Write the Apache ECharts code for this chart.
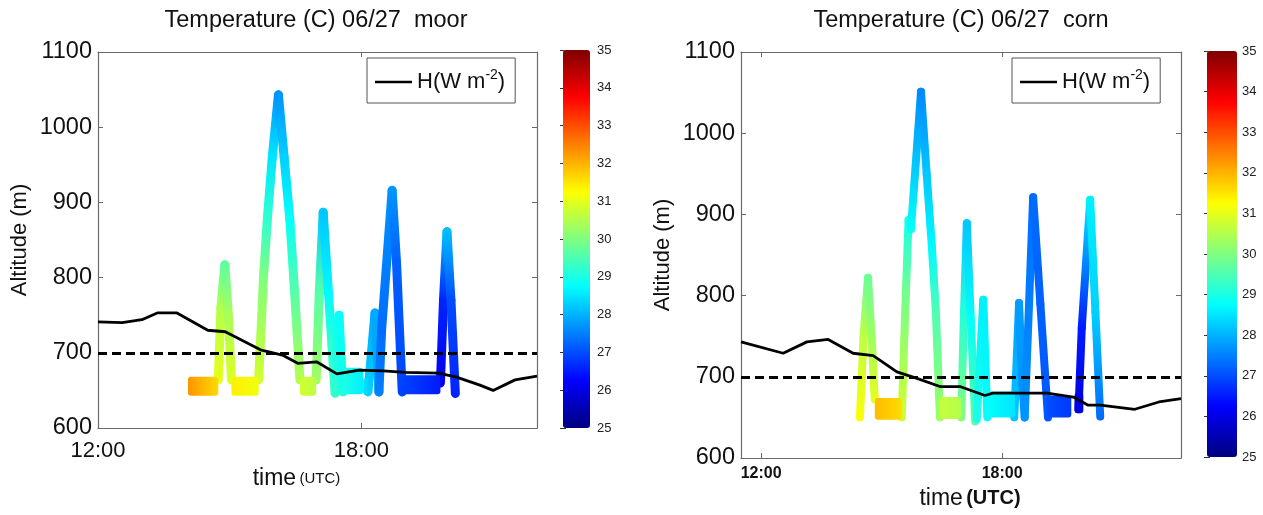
<!DOCTYPE html>
<html>
<head>
<meta charset="utf-8">
<title>Temperature (C) 06/27</title>
<script src="https://cdn.jsdelivr.net/npm/echarts@6/dist/echarts.min.js"></script>
<style>
  html, body { margin: 0; padding: 0; background: #fff; }
  #chart { width: 1263px; height: 515px; }
</style>
</head>
<body>
<div id="chart"></div>
<script>
// ---- temperature colour scale (jet), degrees C ----
const tempMin = 25;
const tempMax = 35;
const jetColors = ['#000080', '#0000ff', '#0080ff', '#00ffff', '#80ff80',
                   '#ffff00', '#ff8000', '#ff0000', '#800000'];

// ---- time axis ticks (decimal hours UTC) ----
const hourTicks = [12, 18];
const refAltitude = 700;

// ---- moor: sensible heat flux curve, drawn in altitude units ----
const moorHTime = [12.0, 12.55, 13.0, 13.35, 13.8, 14.5, 14.9, 15.3, 15.7, 16.2, 16.55,
                   16.98, 17.44, 17.95, 18.5, 19.0, 19.75, 20.15, 20.7, 21.0, 21.5, 22.0];
const moorHAlt  = [741, 740, 744, 753, 753, 730, 728, 716, 704, 697, 686,
                   688, 672, 677, 676, 674, 673, 668, 657, 650, 664, 669];

// ---- moor: flight profiles, each vertex [time, altitude, temperature] ----
const moorProfiles = [
  [[14.74, 664, 31.0], [14.80, 760, 30.5], [14.89, 817, 29.7], [14.97, 750, 30.4], [15.04, 664, 30.9]],
  [[15.66, 664, 30.8], [15.77, 800, 30.0], [15.86, 880, 29.2], [15.97, 960, 28.5], [16.11, 1043, 27.7],
   [16.24, 960, 28.3], [16.37, 877, 28.8], [16.48, 780, 29.6], [16.60, 664, 30.5]],
  [[16.97, 664, 30.3], [17.04, 780, 29.6], [17.13, 887, 28.2], [17.25, 780, 28.7], [17.33, 710, 29.2], [17.40, 646, 29.4]],
  [[17.41, 648, 29.2], [17.49, 750, 28.8], [17.58, 648, 29.0]],
  [[18.15, 648, 28.3], [18.31, 753, 27.9], [18.40, 648, 27.9]],
  [[18.40, 648, 27.5], [18.46, 730, 27.3], [18.70, 916, 27.7], [18.80, 820, 27.2], [18.93, 648, 26.9]],
  [[19.80, 660, 26.1], [19.87, 770, 26.6], [19.95, 861, 28.1], [20.04, 770, 27.0], [20.14, 646, 26.6]]
];
// ---- moor: level legs [startTime, endTime, lowAlt, highAlt, startTemp, endTemp] ----
const moorLevels = [
  [14.05, 14.74, 643, 668, 32.3, 31.6],
  [15.04, 15.66, 643, 668, 31.4, 31.1],
  [16.60, 16.97, 643, 668, 30.8, 30.6],
  [17.60, 18.04, 645, 680, 29.0, 28.6],
  [18.04, 18.16, 645, 666, 28.5, 28.3],
  [18.90, 19.80, 645, 670, 26.9, 26.5]
];

// ---- corn: sensible heat flux curve, drawn in altitude units ----
const cornHTime = [11.5, 12.55, 13.14, 13.67, 14.29, 14.79, 15.38, 15.88, 16.45, 16.95,
                   17.57, 17.77, 19.12, 19.77, 20.14, 20.44, 21.3, 21.9, 22.45];
const cornHAlt  = [743, 729, 743, 746, 729, 726, 706, 698, 688, 688,
                   677, 680, 680, 675, 665, 665, 660, 669, 673];

// ---- corn: flight profiles ----
const cornProfiles = [
  [[14.46, 650, 31.2], [14.55, 750, 30.6], [14.66, 822, 29.8], [14.75, 750, 30.3], [14.83, 672, 31.0]],
  [[15.50, 650, 30.8], [15.60, 800, 29.9], [15.67, 893, 29.0], [15.73, 882, 28.8], [15.98, 1051, 27.6],
   [16.12, 950, 28.2], [16.25, 860, 28.7], [16.35, 780, 29.5], [16.45, 650, 30.3]],
  [[16.98, 650, 30.0], [17.05, 780, 29.1], [17.12, 889, 28.2], [17.22, 770, 28.8], [17.33, 645, 29.6]],
  [[17.37, 648, 29.0], [17.53, 795, 28.6], [17.63, 650, 28.8]],
  [[18.30, 650, 28.2], [18.42, 791, 27.8], [18.50, 690, 27.7], [18.56, 650, 27.8]],
  [[18.56, 650, 27.7], [18.77, 921, 27.3], [18.95, 790, 27.2], [19.14, 650, 27.1]],
  [[19.90, 660, 26.0], [19.98, 760, 26.5], [20.19, 918, 28.6], [20.32, 780, 28.3], [20.44, 651, 27.3]]
];
// ---- corn: level legs ----
const cornLevels = [
  [14.83, 15.50, 647, 674, 31.9, 31.6],
  [16.43, 16.98, 648, 675, 30.7, 30.5],
  [17.63, 18.32, 650, 682, 28.8, 28.5],
  [19.10, 19.72, 650, 677, 27.0, 26.8],
  [19.80, 20.02, 655, 680, 26.0, 26.0]
];

const FONT = "'Liberation Sans', Arial, Helvetica, sans-serif";
const INK = '#111';
const FRAME = '#6a6a6a';

function jet(t) {
  const p = Math.min(1, Math.max(0, (t - tempMin) / (tempMax - tempMin)));
  return echarts.color.lerp(p, jetColors);
}

function zip(xs, ys) { return xs.map((x, i) => [x, ys[i]]); }

function toSegments(profiles) {
  const out = [];
  profiles.forEach(leg => {
    for (let i = 0; i < leg.length - 1; i++) {
      const a = leg[i], b = leg[i + 1];
      out.push([a[0], a[1], a[2], b[0], b[1], b[2]]);
    }
  });
  return out;
}

function segmentRenderer(width) {
  return function (params, api) {
    const p1 = api.coord([api.value(0), api.value(1)]);
    const p2 = api.coord([api.value(3), api.value(4)]);
    return {
      type: 'line',
      shape: { x1: p1[0], y1: p1[1], x2: p2[0], y2: p2[1] },
      style: {
        stroke: new echarts.graphic.LinearGradient(p1[0], p1[1], p2[0], p2[1], [
          { offset: 0, color: jet(api.value(2)) },
          { offset: 1, color: jet(api.value(5)) }
        ], true),
        lineWidth: width,
        lineCap: 'round',
        lineJoin: 'round'
      }
    };
  };
}

function levelRenderer(params, api) {
  const tl = api.coord([api.value(0), api.value(3)]);
  const br = api.coord([api.value(1), api.value(2)]);
  return {
    type: 'rect',
    shape: { x: tl[0], y: tl[1], width: br[0] - tl[0], height: br[1] - tl[1], r: 3 },
    style: {
      fill: new echarts.graphic.LinearGradient(tl[0], 0, br[0], 0, [
        { offset: 0, color: jet(api.value(4)) },
        { offset: 1, color: jet(api.value(5)) }
      ], true)
    }
  };
}

const hourLabel = v => Math.round(v) + ':00';
const plainNumber = v => String(v);

function frameAxis(extra) {
  return Object.assign({
    type: 'value',
    axisLine: { show: true, lineStyle: { color: FRAME, width: 1.2 } },
    axisTick: { show: true, inside: true, length: 5, lineStyle: { color: FRAME } },
    axisLabel: { show: false },
    splitLine: { show: false }
  }, extra);
}

function altitudeAxes(gridIndex) {
  return [
    frameAxis({
      gridIndex, position: 'left', min: 600, max: 1100, interval: 100,
      name: 'Altitude (m)', nameLocation: 'middle', nameGap: 67, nameRotate: 90,
      nameTextStyle: { fontFamily: FONT, fontSize: 22, color: INK },
      axisLabel: { show: true, margin: 6, formatter: plainNumber,
                   fontFamily: FONT, fontSize: 23.5, color: INK }
    }),
    frameAxis({ gridIndex, position: 'right', min: 600, max: 1100, interval: 100 })
  ];
}

function colorbarAxes(gridIndex, margin) {
  const tick = { show: true, inside: true, length: 3, lineStyle: { color: '#333' } };
  return [
    {
      type: 'value', gridIndex, position: 'right', min: tempMin, max: tempMax, interval: 1,
      axisLine: { show: false }, axisTick: tick, splitLine: { show: false },
      axisLabel: { margin, formatter: plainNumber, fontFamily: FONT, fontSize: 13, color: '#222' }
    },
    {
      type: 'value', gridIndex, position: 'left', min: tempMin, max: tempMax, interval: 1,
      axisLine: { show: false }, axisTick: tick, splitLine: { show: false },
      axisLabel: { show: false }
    }
  ];
}

const legendText = () => 'H(W m{sup|-2}{n|)}';
function legendBox(name, left) {
  return {
    data: [name], left, top: 58,
    orient: 'horizontal',
    icon: 'rect', itemWidth: 37, itemHeight: 2.5,
    backgroundColor: '#fff', borderColor: '#555', borderWidth: 1,
    padding: [10, 10, 10, 8],
    formatter: legendText,
    selectedMode: false,
    textStyle: {
      fontFamily: FONT, fontSize: 22, color: INK,
      rich: {
        sup: { fontFamily: FONT, fontSize: 14, color: INK, padding: [0, 0, 14, 0] },
        n: { fontFamily: FONT, fontSize: 22, color: INK }
      }
    }
  };
}

const titleStyle = { fontFamily: FONT, fontSize: 23.5, fontWeight: 'normal', color: INK };

const option = {
  backgroundColor: '#fff',
  animation: false,
  title: [
    { text: 'Temperature (C) 06/27  moor', left: 316, top: 9, textAlign: 'center', padding: 0,
      textStyle: titleStyle },
    { text: 'Temperature (C) 06/27  corn', left: 961, top: 9, textAlign: 'center', padding: 0,
      textStyle: titleStyle }
  ],
  legend: [legendBox('H moor', 367), legendBox('H corn', 1012)],
  grid: [
    { left: 98, top: 52, width: 439, height: 376 },
    { left: 741, top: 52, width: 440, height: 406 },
    { left: 563, top: 50, width: 27, height: 378 },
    { left: 1207, top: 51, width: 30, height: 406 }
  ],
  xAxis: [
    frameAxis({
      gridIndex: 0, position: 'bottom', min: 12, max: 22,
      axisTick: { show: true, inside: true, length: 5, customValues: hourTicks, lineStyle: { color: FRAME } },
      axisLabel: { show: true, customValues: hourTicks, formatter: hourLabel, margin: 12,
                   fontFamily: FONT, fontSize: 22, color: INK },
      name: '{a|time} {b|(UTC)}', nameLocation: 'middle', nameGap: 38,
      nameTextStyle: { padding: [0, 42, 0, 0],
        rich: { a: { fontFamily: FONT, fontSize: 23, color: INK },
                b: { fontFamily: FONT, fontSize: 15, color: INK } } }
    }),
    frameAxis({
      gridIndex: 0, position: 'top', min: 12, max: 22,
      axisTick: { show: true, inside: true, length: 5, customValues: hourTicks, lineStyle: { color: FRAME } }
    }),
    frameAxis({
      gridIndex: 1, position: 'bottom', min: 11.5, max: 22.45,
      axisTick: { show: true, inside: true, length: 5, customValues: hourTicks, lineStyle: { color: FRAME } },
      axisLabel: { show: true, customValues: hourTicks, formatter: hourLabel, margin: 8,
                   fontFamily: FONT, fontSize: 16, fontWeight: 'bold', color: INK },
      name: '{a|time} {b|(UTC)}', nameLocation: 'middle', nameGap: 29,
      nameTextStyle: { padding: [0, 0, 0, 18],
        rich: { a: { fontFamily: FONT, fontSize: 23, color: INK },
                b: { fontFamily: FONT, fontSize: 20, fontWeight: 'bold', color: INK } } }
    }),
    frameAxis({
      gridIndex: 1, position: 'top', min: 11.5, max: 22.45,
      axisTick: { show: true, inside: true, length: 5, customValues: hourTicks, lineStyle: { color: FRAME } }
    }),
    { type: 'value', gridIndex: 2, show: false, min: 0, max: 1 },
    { type: 'value', gridIndex: 3, show: false, min: 0, max: 1 }
  ],
  yAxis: [
    ...altitudeAxes(0),
    ...altitudeAxes(1),
    ...colorbarAxes(2, 7),
    ...colorbarAxes(3, 5)
  ],
  visualMap: [
    { type: 'continuous', min: tempMin, max: tempMax, dimension: 2, seriesIndex: 0,
      left: 563, top: 50, itemWidth: 27, itemHeight: 378, padding: 0,
      calculable: false, hoverLink: false, inRange: { color: jetColors } },
    { type: 'continuous', min: tempMin, max: tempMax, dimension: 2, seriesIndex: 4,
      left: 1207, top: 51, itemWidth: 30, itemHeight: 406, padding: 0,
      calculable: false, hoverLink: false, inRange: { color: jetColors } }
  ],
  series: [
    { type: 'custom', name: 'moor profiles', xAxisIndex: 0, yAxisIndex: 0, clip: true, z: 2,
      renderItem: segmentRenderer(9), encode: { x: [0, 3], y: [1, 4] },
      data: toSegments(moorProfiles) },
    { type: 'custom', name: 'moor levels', xAxisIndex: 0, yAxisIndex: 0, clip: true, z: 2,
      renderItem: levelRenderer, encode: { x: [0, 1], y: [2, 3] },
      data: moorLevels },
    { type: 'line', name: 'H moor', xAxisIndex: 0, yAxisIndex: 0, z: 5,
      symbol: 'none', color: '#000', lineStyle: { color: '#000', width: 2.8 },
      data: zip(moorHTime, moorHAlt),
      markLine: { silent: true, symbol: 'none', label: { show: false },
        lineStyle: { color: '#000', width: 2.8, type: [9, 5] }, data: [{ yAxis: refAltitude }] } },
    { type: 'line', name: 'colour scale moor', xAxisIndex: 4, yAxisIndex: 4, data: [], silent: true },
    { type: 'custom', name: 'corn profiles', xAxisIndex: 2, yAxisIndex: 2, clip: true, z: 2,
      renderItem: segmentRenderer(8), encode: { x: [0, 3], y: [1, 4] },
      data: toSegments(cornProfiles) },
    { type: 'custom', name: 'corn levels', xAxisIndex: 2, yAxisIndex: 2, clip: true, z: 2,
      renderItem: levelRenderer, encode: { x: [0, 1], y: [2, 3] },
      data: cornLevels },
    { type: 'line', name: 'H corn', xAxisIndex: 2, yAxisIndex: 2, z: 5,
      symbol: 'none', color: '#000', lineStyle: { color: '#000', width: 2.8 },
      data: zip(cornHTime, cornHAlt),
      markLine: { silent: true, symbol: 'none', label: { show: false },
        lineStyle: { color: '#000', width: 2.8, type: [9, 5] }, data: [{ yAxis: refAltitude }] } },
    { type: 'line', name: 'colour scale corn', xAxisIndex: 5, yAxisIndex: 6, data: [], silent: true }
  ]
};

const chart = echarts.init(document.getElementById('chart'), null, { renderer: 'canvas' });
chart.setOption(option);
</script>
</body>
</html>
